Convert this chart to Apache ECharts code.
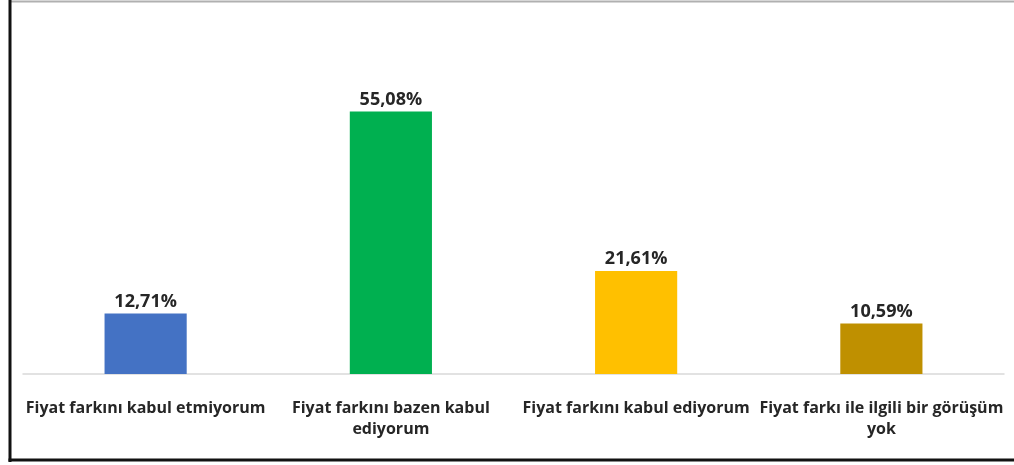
<!DOCTYPE html>
<html>
<head>
<meta charset="utf-8">
<script src="https://cdn.jsdelivr.net/npm/echarts@6/dist/echarts.min.js"></script>
<style>
  html, body { margin: 0; padding: 0; background: #fff; }
  #chart { width: 1014px; height: 465px; }
</style>
</head>
<body>
<div id="chart"></div>
<script>
const categories = [
  'Fiyat farkını kabul etmiyorum',
  'Fiyat farkını bazen kabul\nediyorum',
  'Fiyat farkını kabul ediyorum',
  'Fiyat farkı ile ilgili bir görüşüm\nyok'
]
const values = [12.71, 55.08, 21.61, 10.59]
const colors = ['#4472C4', '#00B050', '#FFC000', '#BF9000']

const chart = echarts.init(document.getElementById('chart'))

const option = {
  animation: false,
  textStyle: { fontFamily: 'Open Sans' },
  grid: { left: 23, right: 10, top: 88, bottom: 91 },
  xAxis: {
    type: 'category',
    data: categories,
    axisLine: { lineStyle: { color: '#d9d9d9', width: 1.5 } },
    axisTick: { show: false },
    axisLabel: {
      interval: 0,
      margin: 24,
      color: '#262626',
      fontSize: 16,
      fontWeight: 'bold',
      lineHeight: 21,
      align: 'center'
    }
  },
  yAxis: {
    type: 'value',
    min: 0,
    max: 60,
    show: false
  },
  series: [
    {
      type: 'bar',
      barWidth: '33.5%',
      data: values.map((v, i) => ({ value: v, itemStyle: { color: colors[i] } })),
      label: {
        show: true,
        position: 'top',
        distance: 3,
        color: '#262626',
        fontSize: 18,
        fontWeight: 'bold',
        formatter: p => p.value.toFixed(2).replace('.', ',') + '%'
      }
    }
  ],
  graphic: [
    { type: 'line', shape: { x1: 10, y1: 1.5, x2: 1014, y2: 1.5 }, style: { stroke: '#b0b0b0', lineWidth: 2 } },
    { type: 'line', shape: { x1: 10, y1: 0, x2: 10, y2: 462 }, style: { stroke: '#111', lineWidth: 3 } },
    { type: 'line', shape: { x1: 8.5, y1: 460, x2: 1014, y2: 460 }, style: { stroke: '#111', lineWidth: 3 } }
  ]
}

chart.setOption(option)
</script>
</body>
</html>
